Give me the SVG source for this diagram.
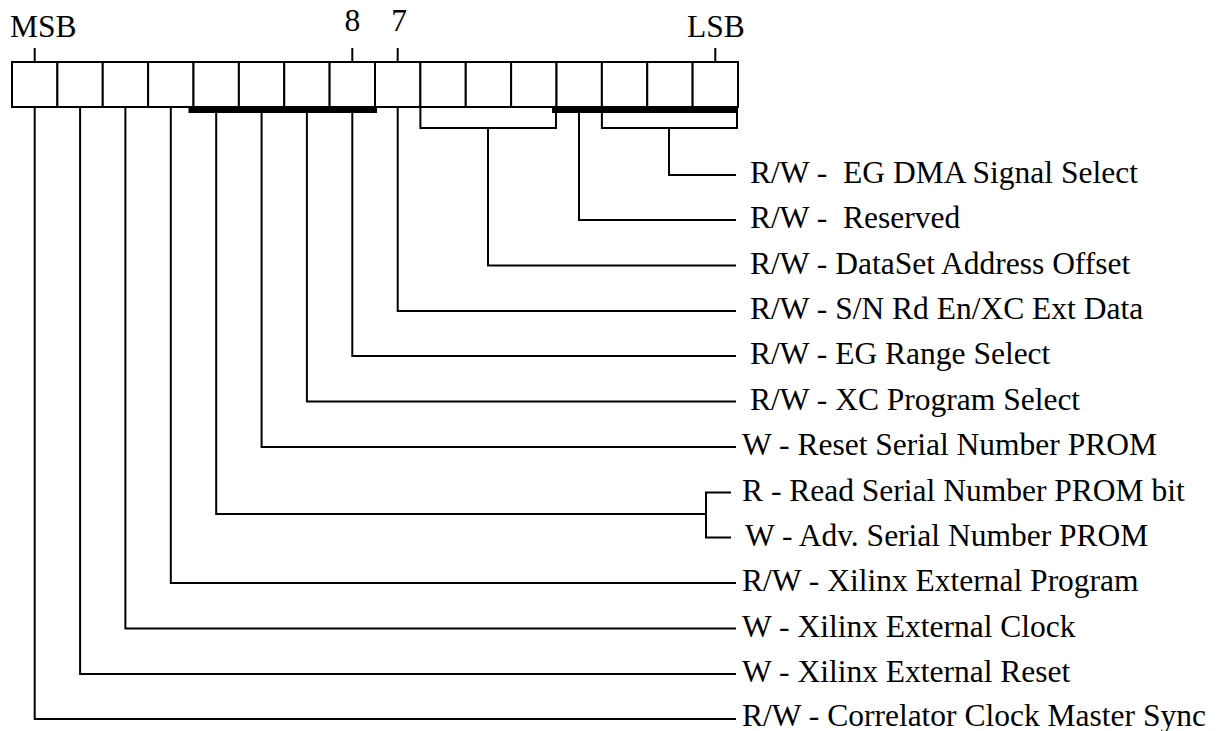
<svg xmlns="http://www.w3.org/2000/svg" width="1227" height="731" viewBox="0 0 1227 731">
<style>
  text { font-family: "Liberation Serif", "Times New Roman", serif; font-size: 31.5px; fill: #000; white-space: pre; }
  .cell { fill: #fff; stroke: #000; stroke-width: 2; }
  .wire { fill: none; stroke: #000; stroke-width: 2; }
  .bar { fill: #000; }
</style>
<rect width="1227" height="731" fill="#fff"/>
<g id="register">
  <g id="bit15"><rect class="cell" x="12" y="62" width="45.375" height="45"/></g>
  <g id="bit14"><rect class="cell" x="57.375" y="62" width="45.375" height="45"/></g>
  <g id="bit13"><rect class="cell" x="102.75" y="62" width="45.375" height="45"/></g>
  <g id="bit12"><rect class="cell" x="148.125" y="62" width="45.375" height="45"/></g>
  <g id="bit11"><rect class="cell" x="193.5" y="62" width="45.375" height="45"/></g>
  <g id="bit10"><rect class="cell" x="238.875" y="62" width="45.375" height="45"/></g>
  <g id="bit9"><rect class="cell" x="284.25" y="62" width="45.375" height="45"/></g>
  <g id="bit8"><rect class="cell" x="329.625" y="62" width="45.375" height="45"/></g>
  <g id="bit7"><rect class="cell" x="375" y="62" width="45.375" height="45"/></g>
  <g id="bit6"><rect class="cell" x="420.375" y="62" width="45.375" height="45"/></g>
  <g id="bit5"><rect class="cell" x="465.75" y="62" width="45.375" height="45"/></g>
  <g id="bit4"><rect class="cell" x="511.125" y="62" width="45.375" height="45"/></g>
  <g id="bit3"><rect class="cell" x="556.5" y="62" width="45.375" height="45"/></g>
  <g id="bit2"><rect class="cell" x="601.875" y="62" width="45.375" height="45"/></g>
  <g id="bit1"><rect class="cell" x="647.25" y="62" width="45.375" height="45"/></g>
  <g id="bit0"><rect class="cell" x="692.625" y="62" width="45.375" height="45"/></g>
</g>
<g id="connectors">
  <path class="wire" d="M34.7,62V48M352.3,62V48M397.7,62V48M715.3,62V48"/>
  <rect class="bar" x="188.5" y="107" width="188.5" height="6"/>
  <rect class="bar" x="552" y="107" width="186" height="6"/>
  <path class="wire" d="M420.4,107V128H556V107"/>
  <path class="wire" d="M601.9,113V128H737V113"/>
  <path class="wire" d="M669,128V175H736"/>
  <path class="wire" d="M579,113V220H736"/>
  <path class="wire" d="M488,128V265.5H736"/>
  <path class="wire" d="M397.7,107V311H736"/>
  <path class="wire" d="M352.3,113V356H736"/>
  <path class="wire" d="M306.9,113V401.5H736"/>
  <path class="wire" d="M261.6,113V447H736"/>
  <path class="wire" d="M216.2,113V514H706"/>
  <path class="wire" d="M731,492.5H706V537.5H731"/>
  <path class="wire" d="M170.8,107V583H736"/>
  <path class="wire" d="M125.4,107V628.5H736"/>
  <path class="wire" d="M80.1,107V674H736"/>
  <path class="wire" d="M34.7,107V719H736"/>
</g>
<g id="bit-labels">
  <text id="lbl-msb" x="10" y="37">MSB</text>
  <text id="lbl-8" x="352.3" y="31" text-anchor="middle">8</text>
  <text id="lbl-7" x="399" y="31" text-anchor="middle">7</text>
  <text id="lbl-lsb" x="687" y="37">LSB</text>
</g>
<g id="fields">
  <g id="f-egdma"><text x="750" y="183">R/W -  EG DMA Signal Select</text></g>
  <g id="f-reserved"><text x="750" y="228">R/W -  Reserved</text></g>
  <g id="f-dataset"><text x="750" y="273.5">R/W - DataSet Address Offset</text></g>
  <g id="f-snrd"><text x="750" y="319">R/W - S/N Rd En/XC Ext Data</text></g>
  <g id="f-egrange"><text x="750" y="364">R/W - EG Range Select</text></g>
  <g id="f-xcprog"><text x="750" y="409.5">R/W - XC Program Select</text></g>
  <g id="f-resetsn"><text x="742" y="455">W - Reset Serial Number PROM</text></g>
  <g id="f-readsn"><text x="742" y="500.5">R - Read Serial Number PROM bit</text></g>
  <g id="f-advsn"><text x="745" y="545.5">W - Adv. Serial Number PROM</text></g>
  <g id="f-xprog"><text x="742" y="591">R/W - Xilinx External Program</text></g>
  <g id="f-xclock"><text x="742" y="636.5">W - Xilinx External Clock</text></g>
  <g id="f-xreset"><text x="742" y="682">W - Xilinx External Reset</text></g>
  <g id="f-sync"><text x="742" y="726">R/W - Correlator Clock Master Sync</text></g>
</g>
</svg>
